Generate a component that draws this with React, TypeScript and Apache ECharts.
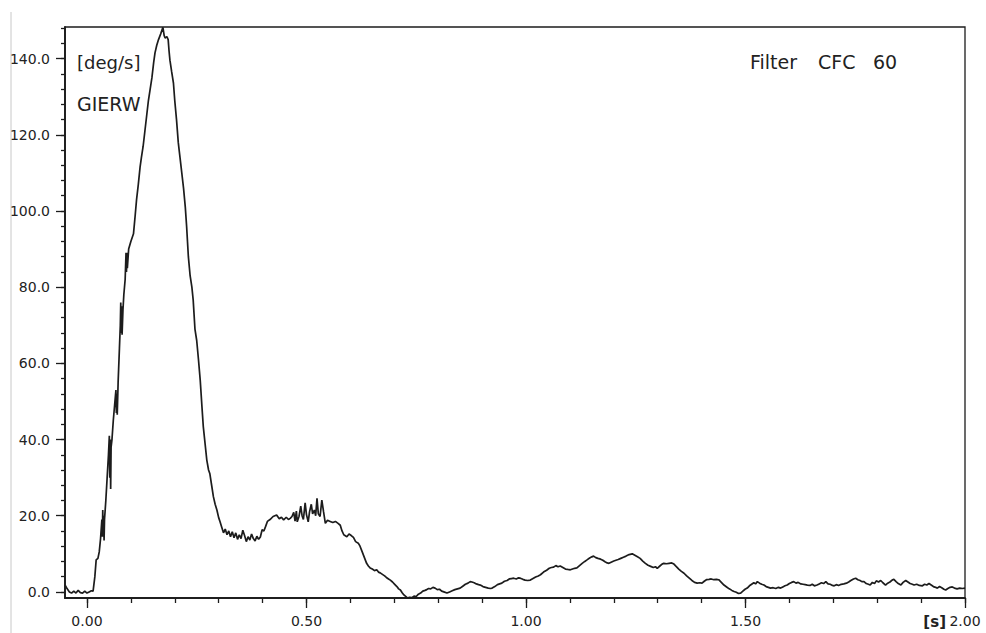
import React, { useEffect, useRef } from "react";
import * as echarts from "echarts";

// time [s]
const timeSec = [
  -0.05, -0.045, -0.04, -0.035, -0.03, -0.025, -0.02, -0.015, -0.01, -0.005, 0.0, 0.005, 0.01, 0.014, 0.018, 0.021,
  0.025, 0.028, 0.031, 0.034, 0.035, 0.036, 0.037, 0.038, 0.039, 0.04, 0.043, 0.046, 0.049, 0.051, 0.052, 0.053,
  0.054, 0.055, 0.057, 0.06, 0.063, 0.066, 0.067, 0.068, 0.069, 0.071, 0.074, 0.076, 0.077, 0.078, 0.079, 0.08,
  0.082, 0.084, 0.087, 0.089, 0.09, 0.091, 0.092, 0.095, 0.1, 0.106, 0.11, 0.113, 0.117, 0.121, 0.124, 0.128,
  0.132, 0.136, 0.14, 0.144, 0.148, 0.152, 0.155, 0.159, 0.163, 0.168, 0.173, 0.176, 0.178, 0.182, 0.185, 0.187,
  0.189, 0.193, 0.197, 0.2, 0.204, 0.208, 0.21, 0.212, 0.216, 0.22, 0.224, 0.227, 0.229, 0.231, 0.235, 0.239,
  0.242, 0.246, 0.25, 0.254, 0.258, 0.262, 0.265, 0.269, 0.273, 0.277, 0.28, 0.284, 0.288, 0.292, 0.296, 0.3,
  0.303, 0.307, 0.311, 0.315, 0.319, 0.323, 0.327, 0.331, 0.335, 0.339, 0.343, 0.347, 0.351, 0.355, 0.359, 0.363,
  0.367, 0.371, 0.375, 0.379, 0.383, 0.387, 0.391, 0.395, 0.399, 0.403, 0.407, 0.411, 0.417, 0.424, 0.432, 0.438,
  0.443, 0.448, 0.454, 0.459, 0.463, 0.467, 0.471, 0.474, 0.477, 0.479, 0.483, 0.487, 0.49, 0.493, 0.497, 0.5,
  0.504, 0.507, 0.511, 0.514, 0.518, 0.521, 0.524, 0.527, 0.531, 0.535, 0.539, 0.543, 0.548, 0.554, 0.56, 0.566,
  0.572, 0.577, 0.581, 0.585, 0.592, 0.597, 0.602, 0.607, 0.612, 0.618, 0.622, 0.627, 0.632, 0.637, 0.641, 0.645,
  0.65, 0.655, 0.66, 0.664, 0.668, 0.673, 0.678, 0.682, 0.687, 0.691, 0.696, 0.701, 0.706, 0.71, 0.714, 0.718,
  0.722, 0.726, 0.73, 0.735, 0.74, 0.745, 0.75, 0.755, 0.76, 0.765, 0.77, 0.774, 0.778, 0.783, 0.788, 0.793,
  0.798, 0.803, 0.808, 0.813, 0.82, 0.826, 0.832, 0.838, 0.844, 0.85, 0.856, 0.862, 0.868, 0.873, 0.877, 0.882,
  0.887, 0.892, 0.896, 0.902, 0.908, 0.914, 0.919, 0.923, 0.929, 0.935, 0.94, 0.945, 0.951, 0.957, 0.962, 0.967,
  0.972, 0.978, 0.983, 0.987, 0.993, 0.998, 1.004, 1.01, 1.016, 1.022, 1.028, 1.033, 1.04, 1.047, 1.053, 1.058,
  1.063, 1.068, 1.073, 1.078, 1.084, 1.09, 1.095, 1.101, 1.106, 1.111, 1.116, 1.122, 1.128, 1.134, 1.139, 1.145,
  1.15, 1.154, 1.159, 1.164, 1.17, 1.175, 1.18, 1.185, 1.189, 1.194, 1.2, 1.205, 1.21, 1.216, 1.222, 1.228,
  1.235, 1.242, 1.248, 1.254, 1.26, 1.266, 1.272, 1.278, 1.284, 1.29, 1.295, 1.299, 1.305, 1.31, 1.314, 1.32,
  1.326, 1.332, 1.337, 1.342, 1.348, 1.354, 1.36, 1.366, 1.372, 1.378, 1.384, 1.39, 1.396, 1.401, 1.406, 1.411,
  1.417, 1.422, 1.428, 1.434, 1.439, 1.445, 1.451, 1.457, 1.463, 1.469, 1.474, 1.479, 1.484, 1.489, 1.494, 1.499,
  1.504, 1.509, 1.514, 1.519, 1.523, 1.527, 1.532, 1.537, 1.542, 1.547, 1.552, 1.557, 1.563, 1.569, 1.575, 1.58,
  1.585, 1.59, 1.595, 1.6, 1.605, 1.61, 1.615, 1.62, 1.626, 1.631, 1.636, 1.641, 1.647, 1.652, 1.657, 1.663,
  1.668, 1.673, 1.678, 1.683, 1.688, 1.693, 1.698, 1.702, 1.707, 1.712, 1.718, 1.724, 1.73, 1.735, 1.74, 1.746,
  1.751, 1.756, 1.761, 1.765, 1.77, 1.775, 1.78, 1.784, 1.789, 1.794, 1.798, 1.803, 1.808, 1.813, 1.819, 1.824,
  1.829, 1.834, 1.838, 1.843, 1.848, 1.854, 1.859, 1.865, 1.87, 1.875, 1.88, 1.884, 1.89, 1.896, 1.903, 1.908,
  1.913, 1.918, 1.923, 1.928, 1.933, 1.937, 1.942, 1.947, 1.952, 1.956, 1.961, 1.966, 1.971, 1.976, 1.982, 1.988,
  1.994, 2.0,
];

// GIERW yaw rate [deg/s]
const yawRate = [
  1.8, 0.8, 0.0, -0.3, 0.2, -0.3, 0.4, -0.2, -0.3, 0.2, -0.3, 0.0, 0.3, 0.2, 4, 8.4,
  8.8, 10.5, 14, 19, 14.5, 21.5, 15, 20, 13.5, 19, 24, 30, 36, 41, 30, 40,
  27, 38, 40, 45, 49, 53, 47, 52, 46.5, 55, 64, 70, 76, 68, 75, 67.5,
  74, 78, 82, 89, 84, 89, 85, 90, 92, 94, 99, 103, 107, 111.5, 114, 117,
  121, 125, 129, 132, 135, 139, 141.5, 143.5, 145, 146.5, 148.2, 146, 145.4, 145.8, 145, 142,
  139.6, 136.5, 133.6, 129, 124, 118, 116, 114, 110, 106, 101, 96, 92, 88, 83, 80,
  76.6, 69, 66, 61, 55.6, 48.5, 43.4, 39, 34.6, 32, 31, 28, 25, 23, 21.5, 19.5,
  18.5, 17, 15.5, 16.5, 15, 16, 14.5, 15.8, 14.2, 15.5, 13.8, 15, 14, 16.2, 14.8, 13.2,
  14.5, 13.6, 15.2, 14, 13.4, 14.6, 13.8, 14.4, 16.3, 16, 17.2, 18.5, 19, 19.8, 20.2, 19.2,
  19.6, 18.9, 19.6, 19.0, 19.3, 19.8, 20.9, 18.6, 21.2, 18.4, 19.8, 22.5, 20, 19, 23.4, 20.3,
  18.4, 21, 23, 20.5, 21.5, 20, 24.6, 20.5, 19.8, 24.1, 21, 18, 18.8, 18.5, 18.2, 18.5,
  18, 17.5, 16, 15, 14.5, 15.2, 14.8, 14.3, 13.2, 12.8, 12, 10.5, 9, 7.5, 6.8, 6.3,
  6, 5.6, 5.8, 5.2, 5, 4.6, 4.2, 3.8, 3.4, 3.1, 2.6, 2.0, 1.4, 0.8, 0.5, -0.2,
  -0.8, -1.2, -1.6, -1.4, -1.5, -1.1, -1.2, -0.6, -0.3, 0.2, 0.4, 0.6, 0.9, 0.8, 1.2, 1.0,
  0.6, 0.7, 0.2, 0.0, -0.3, 0.0, 0.3, 0.6, 0.8, 1.0, 1.5, 2.0, 2.3, 2.7, 2.6, 2.4,
  2.1, 1.9, 1.8, 1.4, 1.2, 1.0, 0.9, 1.0, 1.4, 1.9, 2.1, 2.3, 2.8, 3.0, 3.4, 3.5,
  3.6, 3.4, 3.7, 3.6, 3.3, 3.1, 3.0, 3.1, 3.5, 3.9, 4.2, 4.5, 5.2, 5.7, 6.2, 6.4,
  6.5, 6.9, 6.6, 6.8, 6.4, 6.0, 5.9, 5.8, 6.0, 6.2, 6.3, 6.9, 7.5, 8.0, 8.4, 8.9,
  9.2, 9.4, 9.0, 8.8, 8.6, 8.3, 7.9, 7.6, 7.5, 7.8, 8.1, 8.3, 8.5, 8.8, 9.1, 9.4,
  9.8, 10.0, 9.6, 9.2, 8.8, 8.1, 7.5, 7.0, 6.7, 6.4, 6.6, 6.2, 6.8, 7.3, 7.5, 7.4,
  7.5, 7.6, 7.3, 6.7, 6.0, 5.4, 4.9, 4.2, 3.6, 3.0, 2.5, 2.3, 2.4, 2.3, 2.8, 3.2,
  3.3, 3.4, 3.2, 3.3, 3.2, 2.5, 1.8, 1.3, 0.8, 0.4, 0.1, -0.1, -0.4, -0.3, 0.2, 0.7,
  1.0, 1.6, 2.0, 2.4, 2.1, 2.7, 2.3, 2.0, 1.8, 1.4, 1.2, 1.0, 1.1, 0.9, 1.2, 1.0,
  1.3, 1.6, 1.8, 2.2, 2.5, 2.7, 2.3, 2.5, 2.1, 2.0, 1.9, 1.8, 1.7, 2.0, 1.6, 1.8,
  2.1, 2.4, 2.2, 2.7, 2.1, 2.0, 1.7, 1.6, 1.9, 1.7, 2.0, 2.1, 2.3, 2.6, 3.0, 3.4,
  3.6, 3.2, 3.0, 2.7, 2.7, 2.2, 2.0, 1.8, 2.5, 2.2, 2.9, 2.6, 3.0, 2.4, 1.8, 2.3,
  2.6, 3.1, 3.3, 2.7, 2.2, 1.8, 2.5, 3.0, 2.6, 2.2, 2.0, 1.8, 2.0, 1.7, 1.6, 2.0,
  1.8, 2.2, 1.8, 1.4, 1.2, 1.0, 1.4, 1.1, 0.7, 0.5, 0.9, 1.2, 1.3, 1.0, 0.8, 1.0,
  0.9, 1.0,
];

const xLabelTicks = [0, 0.5, 1.0, 1.5, 2.0];
const xMinorTicks = [0, 0.1, 0.2, 0.3, 0.4, 0.5, 0.6, 0.7, 0.8, 0.9, 1.0, 1.1, 1.2, 1.3, 1.4, 1.5, 1.6, 1.7, 1.8, 1.9, 2.0];
const yLabelTicks = [0, 20, 40, 60, 80, 100, 120, 140];
const yMinorTicks = [0, 4, 8, 12, 16, 20, 24, 28, 32, 36, 40, 44, 48, 52, 56, 60, 64, 68, 72, 76, 80, 84, 88, 92, 96, 100, 104, 108, 112, 116, 120, 124, 128, 132, 136, 140, 144, 148];

const X_MIN = -0.05;
const X_MAX = 2.0;
const Y_MIN = -1.6;
const Y_MAX = 148.3;

const INK = "#1c1c1c";
const FONT = '"DejaVu Sans", "Liberation Sans", sans-serif';

export default function App() {
  const ref = useRef<HTMLDivElement>(null);

  useEffect(() => {
    if (!ref.current) return;
    const chart = echarts.init(ref.current, null, { renderer: "svg" });
    const data = timeSec.map((t, i) => [t, yawRate[i]]);

    const axisLine = { show: true, onZero: false, lineStyle: { color: INK, width: 1.5 } };

    chart.setOption({
      animation: false,
      backgroundColor: "#ffffff",
      grid: {
        left: 65,
        right: 21,
        top: 27,
        bottom: 35,
        show: true,
        borderColor: INK,
        borderWidth: 1.3,
        backgroundColor: "transparent",
      },
      xAxis: [
        {
          type: "value",
          min: X_MIN,
          max: X_MAX,
          position: "bottom",
          axisLine,
          axisTick: { show: true, inside: false, length: 5, customValues: xMinorTicks, lineStyle: { color: INK, width: 1.3 } },
          axisLabel: { show: false },
          splitLine: { show: false },
        },
        {
          type: "value",
          min: X_MIN,
          max: X_MAX,
          position: "bottom",
          offset: 0,
          axisLine,
          axisTick: { show: true, inside: false, length: 10, customValues: xLabelTicks, lineStyle: { color: INK, width: 1.3 } },
          axisLabel: {
            show: true,
            customValues: xLabelTicks,
            margin: 16,
            color: "#222",
            fontSize: 14,
            fontFamily: FONT,
            formatter: (v: number) => v.toFixed(2),
          },
          splitLine: { show: false },
        },
      ],
      yAxis: [
        {
          type: "value",
          min: Y_MIN,
          max: Y_MAX,
          position: "left",
          axisLine,
          axisTick: { show: true, inside: false, length: 4, customValues: yMinorTicks, lineStyle: { color: INK, width: 1.3 } },
          axisLabel: { show: false },
          splitLine: { show: false },
        },
        {
          type: "value",
          min: Y_MIN,
          max: Y_MAX,
          position: "left",
          offset: 0,
          axisLine,
          axisTick: { show: true, inside: false, length: 9, customValues: yLabelTicks, lineStyle: { color: INK, width: 1.3 } },
          axisLabel: {
            show: true,
            customValues: yLabelTicks,
            margin: 15,
            color: "#222",
            fontSize: 14,
            fontFamily: FONT,
            formatter: (v: number) => v.toFixed(1),
          },
          splitLine: { show: false },
        },
      ],
      series: [
        {
          type: "line",
          xAxisIndex: 0,
          yAxisIndex: 0,
          data,
          showSymbol: false,
          symbol: "none",
          lineStyle: { color: INK, width: 1.7 },
          clip: false,
        },
      ],
      graphic: [
        {
          type: "line",
          shape: { x1: 11, y1: 12, x2: 11, y2: 633 },
          style: { stroke: "#c8c8c8", lineWidth: 1 },
          silent: true,
        },
        {
          type: "text",
          x: 77,
          y: 62,
          style: { text: "[deg/s]", fill: "#222", font: `18px ${FONT}`, textAlign: "left", textVerticalAlign: "middle" },
        },
        {
          type: "text",
          x: 77,
          y: 104,
          style: { text: "GIERW", fill: "#222", font: `19px ${FONT}`, textAlign: "left", textVerticalAlign: "middle" },
        },
        {
          type: "text",
          x: 750,
          y: 62,
          style: { text: "Filter", fill: "#222", font: `19px ${FONT}`, textAlign: "left", textVerticalAlign: "middle" },
        },
        {
          type: "text",
          x: 818,
          y: 62,
          style: { text: "CFC", fill: "#222", font: `19px ${FONT}`, textAlign: "left", textVerticalAlign: "middle" },
        },
        {
          type: "text",
          x: 873,
          y: 62,
          style: { text: "60", fill: "#222", font: `19px ${FONT}`, textAlign: "left", textVerticalAlign: "middle" },
        },
        {
          type: "text",
          x: 946,
          y: 622,
          style: { text: "[s]", fill: "#222", font: `bold 15px ${FONT}`, textAlign: "right", textVerticalAlign: "middle" },
        },
      ],
    });

    return () => chart.dispose();
  }, []);

  return (
    <div style={{ position: "fixed", left: 0, top: 0, width: 986, height: 633, background: "#fff" }}>
      <div ref={ref} style={{ width: 986, height: 633 }} />
    </div>
  );
}
